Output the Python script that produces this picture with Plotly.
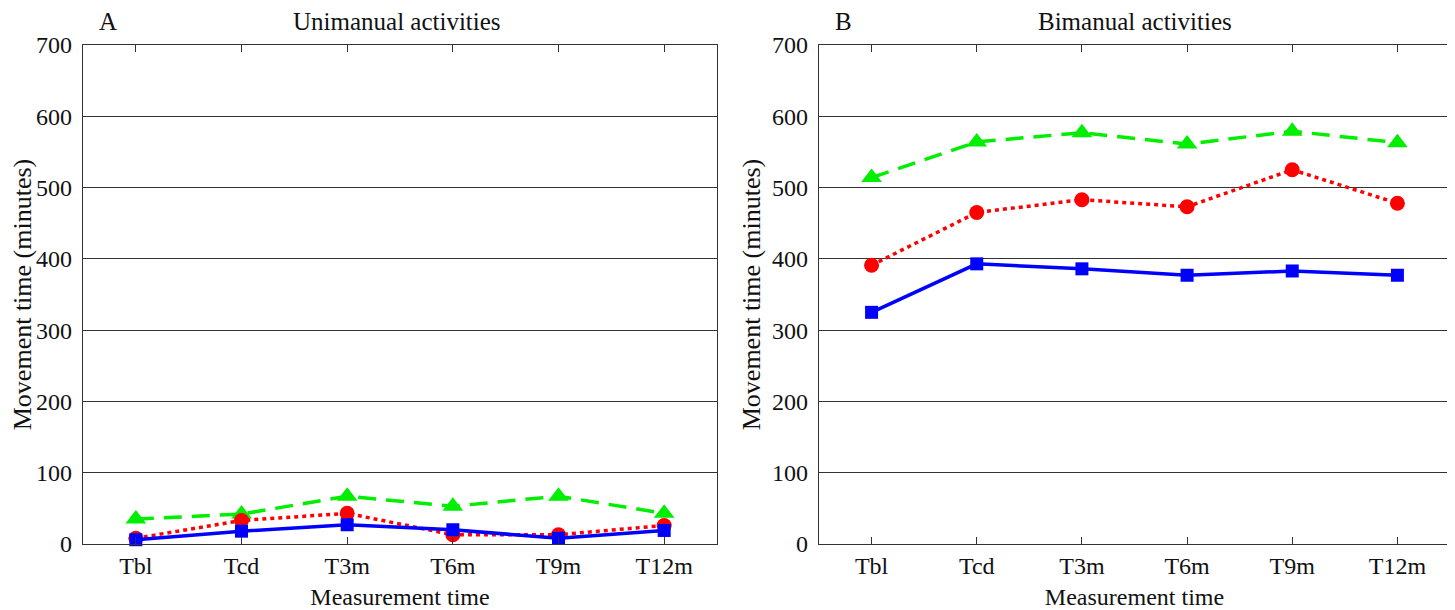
import plotly.graph_objects as go

categories = ["Tbl", "Tcd", "T3m", "T6m", "T9m", "T12m"]

uni_blue = [6, 18, 27, 20, 8, 19]
uni_red = [8, 33, 43, 13, 13, 26]
uni_green = [35, 42, 67, 53, 67, 43]

bi_blue = [325, 393, 386, 377, 383, 377]
bi_red = [391, 465, 483, 473, 525, 478]
bi_green = [514, 564, 577, 561, 579, 563]

y_ticks = [0, 100, 200, 300, 400, 500, 600, 700]

FONT = "Liberation Serif"
FS = 24
xs = list(range(1, len(categories) + 1))

fig = go.Figure()

def add_series(vals, color, dash, symbol, size, xa, ya):
    fig.add_trace(go.Scatter(
        x=xs, y=vals, mode="lines+markers",
        line=dict(color=color, width=3.5, dash=dash),
        marker=dict(symbol=symbol, size=size, color=color),
        xaxis=xa, yaxis=ya, showlegend=False, cliponaxis=False))

for xa, ya, b, r, g in [("x", "y", uni_blue, uni_red, uni_green),
                        ("x2", "y2", bi_blue, bi_red, bi_green)]:
    add_series(g, "#00ee00", "18px,10px", "triangle-up", 18, xa, ya)
    add_series(r, "#ff0000", "4px,4px", "circle", 15, xa, ya)
    add_series(b, "#0000ff", "solid", "square", 13, xa, ya)

axis_common = dict(showline=True, linecolor="#333", linewidth=1.2, mirror="ticks",
                   ticks="inside", ticklen=7, tickcolor="#333", automargin=False,
                   tickfont=dict(family=FONT, size=FS, color="#111"))

xcommon = dict(axis_common, range=[0.5, 6.5], tickvals=xs, ticktext=categories,
               showgrid=False, zeroline=False, ticklabelstandoff=0,
               title=dict(text="Measurement time", font=dict(family=FONT, size=FS, color="#111"), standoff=13))
ycommon = dict(axis_common, range=[0, 700], tickvals=y_ticks, showgrid=True,
               gridcolor="#333", gridwidth=1, zeroline=False, ticklabelstandoff=5,
               title=dict(text="Movement time (minutes)", font=dict(family=FONT, size=26, color="#111"), standoff=3))

# page body has an 8px offset; figure sized to fit the window
fig.update_layout(
    width=1447, height=602,
    margin=dict(l=75, r=5, t=37, b=66),
    plot_bgcolor="white", paper_bgcolor="white",
    xaxis=dict(xcommon, domain=[0, 0.4638], anchor="y"),
    yaxis=dict(ycommon, domain=[0, 1], anchor="x"),
    xaxis2=dict(xcommon, domain=[0.5384, 1], anchor="y2"),
    yaxis2=dict(ycommon, domain=[0, 1], anchor="x2"),
    annotations=[
        dict(text="A", x=0.0183, y=1.0, xref="paper", yref="paper", xanchor="center", yanchor="bottom", yshift=8,
             showarrow=False, font=dict(family=FONT, size=25, color="#111")),
        dict(text="Unimanual activities", x=0.2297, y=1.0, xref="paper", yref="paper", xanchor="center", yanchor="bottom", yshift=8,
             showarrow=False, font=dict(family=FONT, size=25, color="#111")),
        dict(text="B", x=0.556, y=1.0, xref="paper", yref="paper", xanchor="center", yanchor="bottom", yshift=8,
             showarrow=False, font=dict(family=FONT, size=25, color="#111")),
        dict(text="Bimanual activities", x=0.7696, y=1.0, xref="paper", yref="paper", xanchor="center", yanchor="bottom", yshift=8,
             showarrow=False, font=dict(family=FONT, size=25, color="#111")),
    ],
)

fig.write_html("out.html")
